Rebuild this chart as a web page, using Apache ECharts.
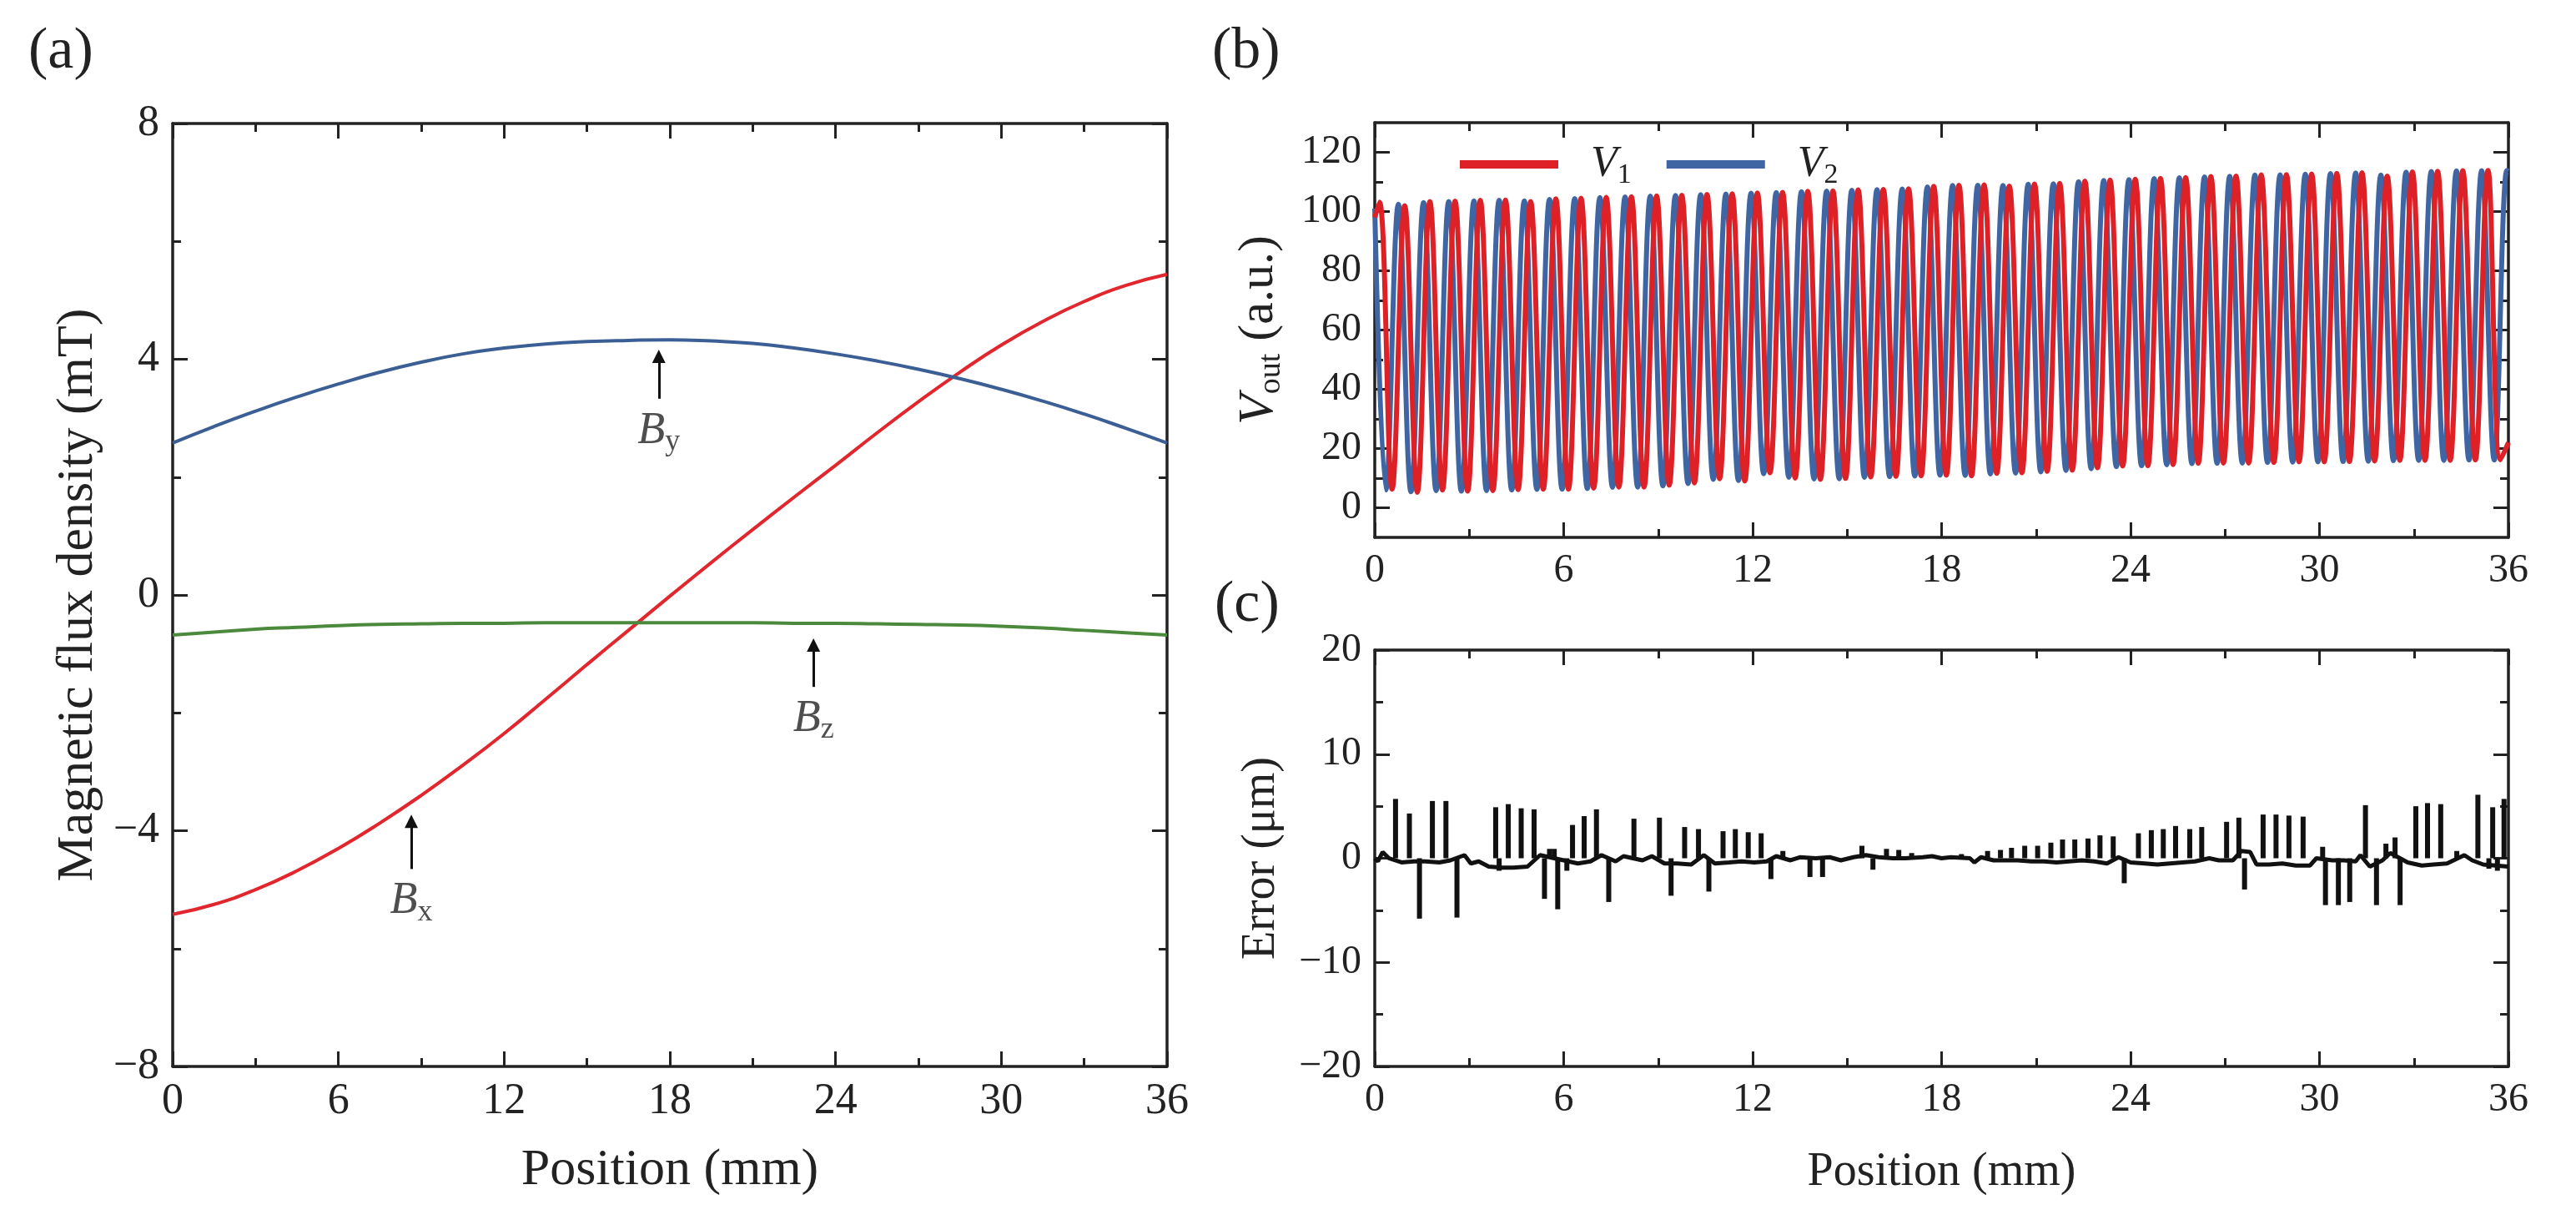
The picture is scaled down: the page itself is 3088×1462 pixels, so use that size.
<!DOCTYPE html>
<html>
<head>
<meta charset="utf-8">
<title>Flux density, output signals and position error</title>
<script src="https://cdn.jsdelivr.net/npm/echarts@6.0.0/dist/echarts.min.js"></script>
<style>
    html, body { margin: 0; padding: 0; background: #fff; }
    #main { width: 3088px; height: 1462px; }
</style>
</head>
<body>
<div id="main"></div>
<script>
// (a) flux density components along the scale
var posA = [0, 1.5, 3, 4.5, 6, 7.5, 9, 10.5, 12, 13.5, 15, 16.5, 18, 19.5, 21, 22.5, 24, 25.5, 27, 28.5, 30, 31.5, 33, 34.5, 36];
var bx = [-5.42, -5.25, -5.00, -4.68, -4.30, -3.87, -3.40, -2.89, -2.35, -1.77, -1.18, -0.60, -0.02, 0.55, 1.11, 1.66, 2.20, 2.75, 3.28, 3.78, 4.24, 4.64, 4.98, 5.25, 5.44];
var by = [2.58, 2.86, 3.12, 3.36, 3.58, 3.78, 3.95, 4.09, 4.19, 4.26, 4.30, 4.32, 4.33, 4.31, 4.27, 4.19, 4.09, 3.97, 3.83, 3.67, 3.49, 3.29, 3.07, 2.83, 2.58];
var bz = [-0.68, -0.63, -0.58, -0.55, -0.52, -0.5, -0.49, -0.48, -0.48, -0.47, -0.47, -0.47, -0.47, -0.47, -0.47, -0.48, -0.48, -0.49, -0.5, -0.51, -0.53, -0.56, -0.6, -0.64, -0.68];

// arrows with their labels in (a)
var arrowX = [17.6, 23.2, 8.64];
var arrowFrom = [3.33, -1.56, -4.65];
var arrowTo = [4.05, -0.85, -3.84];
var arrowLabelY = [2.78, -2.11, -5.2];
var arrowSub = ['y', 'z', 'x'];

// (b) output signals, extrema
var v1Pos = [0, 0.15, 0.55, 0.95, 1.35, 1.75, 2.15, 2.55, 2.95, 3.35, 3.75, 4.15, 4.55, 4.95, 5.35, 5.75, 6.15, 6.55, 6.95, 7.35, 7.75, 8.15, 8.55, 8.95, 9.35, 9.75, 10.15, 10.55, 10.95, 11.35, 11.75, 12.15, 12.55, 12.95, 13.35, 13.75, 14.15, 14.55, 14.95, 15.35, 15.75, 16.15, 16.55, 16.95, 17.35, 17.75, 18.15, 18.55, 18.95, 19.35, 19.75, 20.15, 20.55, 20.95, 21.35, 21.75, 22.15, 22.55, 22.95, 23.35, 23.75, 24.15, 24.55, 24.95, 25.35, 25.75, 26.15, 26.55, 26.95, 27.35, 27.75, 28.15, 28.55, 28.95, 29.35, 29.75, 30.15, 30.55, 30.95, 31.35, 31.75, 32.15, 32.55, 32.95, 33.35, 33.75, 34.15, 34.55, 34.95, 35.35, 35.75, 36];
var v1Val = [98, 103.2, 6.3, 102.0, 5.2, 103.4, 6.0, 103.5, 5.6, 103.8, 5.8, 103.9, 6.1, 103.4, 6.3, 104.3, 6.3, 104.5, 6.6, 104.8, 7.0, 105.0, 7.0, 105.3, 7.6, 105.5, 8.4, 105.8, 9.8, 106.0, 9.0, 106.3, 11.8, 106.5, 10.0, 106.8, 9.6, 107.0, 9.9, 107.3, 10.4, 107.5, 10.6, 107.7, 10.8, 108.5, 11.0, 108.9, 10.8, 109.0, 11.6, 108.6, 11.8, 109.3, 12.3, 109.5, 12.7, 110.3, 13.5, 110.6, 14.1, 110.9, 14.2, 111.2, 14.6, 111.5, 15.0, 111.8, 15.1, 112.0, 15.1, 112.4, 15.3, 112.5, 15.5, 112.7, 15.5, 112.9, 15.6, 113.1, 15.8, 112.0, 16.0, 113.4, 16.0, 113.6, 16.0, 113.8, 16.1, 113.9, 16.2, 22];
var v2Pos = [0, 0.35, 0.75, 1.15, 1.55, 1.95, 2.35, 2.75, 3.15, 3.55, 3.95, 4.35, 4.75, 5.15, 5.55, 5.95, 6.35, 6.75, 7.15, 7.55, 7.95, 8.35, 8.75, 9.15, 9.55, 9.95, 10.35, 10.75, 11.15, 11.55, 11.95, 12.35, 12.75, 13.15, 13.55, 13.95, 14.35, 14.75, 15.15, 15.55, 15.95, 16.35, 16.75, 17.15, 17.55, 17.95, 18.35, 18.75, 19.15, 19.55, 19.95, 20.35, 20.75, 21.15, 21.55, 21.95, 22.35, 22.75, 23.15, 23.55, 23.95, 24.35, 24.75, 25.15, 25.55, 25.95, 26.35, 26.75, 27.15, 27.55, 27.95, 28.35, 28.75, 29.15, 29.55, 29.95, 30.35, 30.75, 31.15, 31.55, 31.95, 32.35, 32.75, 33.15, 33.55, 33.95, 34.35, 34.75, 35.15, 35.55, 35.95, 36];
var v2Val = [101, 6.0, 102.5, 5.4, 103.0, 5.8, 103.4, 5.6, 103.6, 5.8, 103.8, 6.0, 103.6, 6.2, 104.1, 6.3, 104.4, 6.5, 104.7, 6.9, 104.9, 7.0, 105.2, 7.4, 105.4, 8.2, 105.7, 9.6, 105.9, 9.2, 106.2, 11.5, 106.4, 10.3, 106.7, 9.7, 106.9, 9.8, 107.2, 10.3, 107.4, 10.5, 107.6, 10.7, 108.3, 11.0, 108.8, 10.9, 108.9, 11.4, 108.8, 11.7, 109.2, 12.1, 109.4, 12.6, 110.1, 13.2, 110.5, 13.9, 110.8, 14.2, 111.1, 14.5, 111.4, 14.9, 111.7, 15.0, 111.9, 15.1, 112.3, 15.3, 112.4, 15.4, 112.6, 15.5, 112.8, 15.6, 113.0, 15.7, 112.3, 15.9, 113.3, 16.0, 113.5, 16.0, 113.7, 16.1, 113.8, 16.1, 113.9, 113.6];

// (c) error: narrow spikes and the noisy baseline
var spikeX = [0.66, 1.10, 1.42, 1.83, 2.26, 2.61, 3.84, 3.95, 4.24, 4.65, 5.06, 5.39, 5.55, 5.70, 5.81, 6.10, 6.28, 6.65, 7.04, 7.43, 8.23, 9.04, 9.41, 9.84, 10.28, 10.61, 11.06, 11.45, 11.86, 12.27, 12.58, 12.96, 13.82, 14.22, 15.47, 15.82, 16.25, 16.64, 17.05, 18.63, 19.46, 19.87, 20.22, 20.64, 21.05, 21.47, 21.84, 22.23, 22.65, 23.03, 23.45, 23.80, 24.25, 24.66, 25.04, 25.43, 25.88, 26.26, 27.05, 27.44, 27.62, 28.21, 28.62, 29.03, 29.48, 30.10, 30.19, 30.60, 30.96, 31.46, 31.81, 32.11, 32.40, 32.56, 33.06, 33.43, 33.85, 34.36, 35.03, 35.38, 35.50, 35.65, 35.86];
var spikeY = [5.7, 4.3, -5.8, 5.5, 5.5, -5.7, 4.9, -1.2, 5.2, 4.8, 4.7, -3.9, 0.9, 0.9, -4.9, -1.2, 3.2, 4.05, 4.7, -4.2, 3.8, 3.9, -3.6, 3.0, 2.8, -3.2, 2.6, 2.8, 2.5, 2.4, -2.0, 0.7, -1.8, -1.8, 1.2, -1.1, 0.9, 0.8, 0.5, 0.4, 0.7, 0.8, 1.0, 1.2, 1.2, 1.5, 1.8, 1.8, 1.9, 2.2, 2.1, -2.4, 2.4, 2.7, 2.8, 3.1, 2.8, 3.0, 3.5, 3.9, -3.0, 4.2, 4.2, 4.1, 4.0, 1.1, -4.5, -4.5, -4.2, 5.1, -4.5, 1.4, 2.0, -4.5, 5.0, 5.3, 5.2, 0.7, 6.1, -1.0, 4.9, -1.2, 5.7];
var baseX = [0, 0.10, 0.25, 0.45, 0.85, 1.25, 1.60, 2.05, 2.40, 2.85, 3.05, 3.30, 3.62, 4.05, 4.40, 4.85, 5.25, 6.45, 6.85, 7.20, 7.65, 7.90, 8.50, 8.80, 9.20, 9.60, 10.05, 10.45, 10.80, 11.25, 11.65, 12.05, 12.45, 12.75, 13.20, 13.50, 14.00, 14.45, 14.80, 15.20, 15.60, 16.00, 16.45, 16.85, 17.40, 17.70, 18.00, 18.30, 18.90, 19.04, 19.25, 19.65, 20.05, 20.42, 20.85, 21.25, 21.65, 22.05, 22.45, 22.85, 23.25, 23.62, 24.00, 24.45, 24.85, 25.25, 25.65, 26.05, 26.50, 26.80, 27.25, 27.52, 27.80, 28.00, 28.40, 28.82, 29.25, 29.70, 29.90, 30.40, 30.78, 31.15, 31.30, 31.60, 32.00, 32.25, 32.80, 33.25, 33.62, 34.05, 34.60, 34.85, 35.20, 36.00];
var baseY = [0.0, -0.3, 0.6, 0.0, -0.4, -0.3, -0.3, -0.4, -0.2, 0.3, -0.5, -0.3, -0.8, -0.9, -0.9, -0.8, 0.3, -0.5, -0.3, 0.3, -0.3, 0.2, -0.2, 0.2, -0.5, -0.5, -0.6, 0.3, -0.5, -0.4, -0.3, -0.4, -0.3, 0.2, -0.2, 0.1, 0.0, 0.1, -0.2, 0.1, 0.3, 0.1, 0.0, 0.0, 0.1, 0.2, 0.0, 0.1, 0.0, -0.4, 0.1, -0.2, -0.2, -0.2, -0.3, -0.3, -0.4, -0.3, -0.2, -0.3, -0.5, 0.1, -0.4, -0.5, -0.6, -0.5, -0.4, -0.3, 0.0, -0.2, -0.2, 0.7, 0.6, -0.6, -0.6, -0.5, -0.7, -0.7, 0.0, -0.2, -0.2, -0.3, 0.3, -0.8, -0.2, 0.5, -0.4, -0.7, -0.6, -0.5, 0.3, -0.2, -0.6, -0.8];

// tick values of panel (b)
var vMajor = [0, 20, 40, 60, 80, 100, 120];
var vMinor = [10, 30, 50, 70, 90, 110];

var FONT = '"Liberation Serif", "Times New Roman", serif';
var INK = '#222';

function pairs(xs, ys) {
    var out = [];
    for (var i = 0; i < Math.min(xs.length, ys.length); i++) {
        out.push([xs[i], ys[i]]);
    }
    return out;
}

function minus(v) {
    return String(v).replace('-', '\u2212');
}

// rich styles: italic symbol, subscript, plain text
function richStyle(size, sub) {
    return {
        i: { fontFamily: FONT, fontStyle: 'italic', fontSize: size, color: INK, lineHeight: size + 8 },
        s: { fontFamily: FONT, fontSize: sub, color: INK, verticalAlign: 'bottom', lineHeight: sub },
        n: { fontFamily: FONT, fontSize: size, color: INK, lineHeight: size + 8 }
    };
}

function axis(o) {
    var a = {
        type: 'value',
        gridIndex: o.grid,
        position: o.pos,
        min: o.min,
        max: o.max,
        interval: o.step,
        axisLine: { show: o.line !== false, onZero: false, lineStyle: { color: INK, width: 3.5 } },
        axisTick: { show: true, inside: true, length: o.tickLen || 18, lineStyle: { color: INK, width: 3 } },
        minorTick: { show: o.minor !== false, splitNumber: 2, length: 10, lineStyle: { color: INK, width: 3 } },
        splitLine: { show: false },
        axisLabel: { show: !!o.label, color: INK, fontFamily: FONT, fontSize: o.labelSize || 48, margin: 16, formatter: minus }
    };
    if (o.ticks) { a.axisTick.customValues = o.ticks; }
    if (o.labels) { a.axisLabel.customValues = o.labels; }
    if (o.name) {
        var size = o.nameSize || 56;
        a.name = o.name;
        a.nameLocation = 'middle';
        a.nameGap = o.gap;
        a.nameTruncate = { maxWidth: 3000 };
        if (o.rotate) { a.nameRotate = o.rotate; }
        a.nameTextStyle = {
            color: INK, fontFamily: FONT, fontSize: size,
            width: 1400, overflow: 'none',
            rich: richStyle(size, Math.round(size * 0.64))
        };
    }
    return a;
}

var grids = [
    { left: 207, top: 148, width: 1192, height: 1130 },
    { left: 1648, top: 147, width: 1359, height: 497 },
    { left: 1648, top: 779, width: 1359, height: 499 }
];
grids.forEach(function (g) {
    g.containLabel = false;
    g.outerBoundsMode = 'none';
});

var xAxes = [
    axis({ grid: 0, pos: 'bottom', min: 0, max: 36, step: 6, label: true, labelSize: 52,
        name: 'Position (mm)', nameSize: 62, gap: 94 }),
    axis({ grid: 0, pos: 'top', min: 0, max: 36, step: 6 }),
    axis({ grid: 1, pos: 'bottom', min: 0, max: 36, step: 6, label: true }),
    axis({ grid: 1, pos: 'top', min: 0, max: 36, step: 6 }),
    axis({ grid: 2, pos: 'bottom', min: 0, max: 36, step: 6, label: true, name: 'Position (mm)', gap: 99 }),
    axis({ grid: 2, pos: 'top', min: 0, max: 36, step: 6 })
];

var yAxes = [
    axis({ grid: 0, pos: 'left', min: -8, max: 8, step: 4, label: true, labelSize: 52,
        name: 'Magnetic flux density (mT)', nameSize: 62, gap: 82, rotate: 90 }),
    axis({ grid: 0, pos: 'right', min: -8, max: 8, step: 4 }),
    axis({ grid: 1, pos: 'left', min: -10, max: 130, step: 10, minor: false, label: true, ticks: vMajor, labels: vMajor,
        name: '{i|V}{s|out}{n| (a.u.)}', nameSize: 60, gap: 105, rotate: 90 }),
    axis({ grid: 1, pos: 'right', min: -10, max: 130, step: 10, minor: false, ticks: vMajor }),
    axis({ grid: 1, pos: 'left', min: -10, max: 130, step: 10, minor: false, line: false, ticks: vMinor, tickLen: 10 }),
    axis({ grid: 1, pos: 'right', min: -10, max: 130, step: 10, minor: false, line: false, ticks: vMinor, tickLen: 10 }),
    axis({ grid: 2, pos: 'left', min: -20, max: 20, step: 10, label: true, name: 'Error (\u03bcm)', gap: 108, rotate: 90 }),
    axis({ grid: 2, pos: 'right', min: -20, max: 20, step: 10 })
];

function flux(name, values, color) {
    return {
        name: name,
        type: 'line',
        xAxisIndex: 0,
        yAxisIndex: 0,
        data: pairs(posA, values),
        smooth: true,
        showSymbol: false,
        lineStyle: { color: color, width: 4 },
        itemStyle: { color: color }
    };
}

var series = [
    flux('Bx', bx, '#e1262d'),
    flux('By', by, '#3b5f94'),
    flux('Bz', bz, '#4b8a3d')
];

// arrows pointing at the curves
series[2].markLine = {
    silent: true,
    symbol: ['none', 'triangle'],
    symbolSize: 16,
    label: { show: false },
    lineStyle: { color: '#111', width: 3, type: 'solid' },
    data: arrowX.map(function (x, i) {
        return [{ coord: [x, arrowFrom[i]] }, { coord: [x, arrowTo[i]] }];
    })
};

series.push({
    name: 'arrow labels',
    type: 'scatter',
    xAxisIndex: 0,
    yAxisIndex: 0,
    symbolSize: 1,
    itemStyle: { color: 'rgba(0,0,0,0)' },
    label: { show: true, position: 'inside', rich: richStyle(54, 36) },
    data: arrowX.map(function (x, i) {
        return {
            value: [x, arrowLabelY[i]],
            label: { formatter: '{i|B}{s|' + arrowSub[i] + '}' }
        };
    })
});

function signal(name, xs, ys, color) {
    return {
        name: name,
        type: 'line',
        xAxisIndex: 2,
        yAxisIndex: 2,
        data: pairs(xs, ys),
        smooth: 0.4,
        showSymbol: false,
        lineStyle: { color: color, width: 6 },
        itemStyle: { color: color }
    };
}
series.push(signal('V2', v2Pos, v2Val, '#3f66a3'));
series.push(signal('V1', v1Pos, v1Val, '#de2027'));

series.push({
    name: 'baseline',
    type: 'line',
    xAxisIndex: 4,
    yAxisIndex: 6,
    data: pairs(baseX, baseY),
    showSymbol: false,
    lineStyle: { color: '#111', width: 5 }
});
series.push({
    name: 'spikes',
    type: 'bar',
    xAxisIndex: 4,
    yAxisIndex: 6,
    barWidth: 6,
    itemStyle: { color: '#111' },
    data: pairs(spikeX, spikeY)
});

var option = {
    backgroundColor: '#fff',
    animation: false,
    grid: grids,
    xAxis: xAxes,
    yAxis: yAxes,
    legend: {
        data: ['V1', 'V2'],
        left: 1745,
        top: 166,
        icon: 'rect',
        itemWidth: 118,
        itemHeight: 10,
        itemGap: 42,
        formatter: function (name) {
            return '{i|' + name.charAt(0) + '}{s|' + name.charAt(1) + '}';
        },
        textStyle: {
            padding: [0, 0, 0, 34],
            rich: richStyle(52, 34)
        }
    },
    graphic: [
        { type: 'text', left: 34, top: 28, style: { text: '(a)', fontSize: 70, fontFamily: FONT, fill: INK } },
        { type: 'text', left: 1453, top: 28, style: { text: '(b)', fontSize: 70, fontFamily: FONT, fill: INK } },
        { type: 'text', left: 1456, top: 691, style: { text: '(c)', fontSize: 70, fontFamily: FONT, fill: INK } }
    ],
    series: series
};

var chart = echarts.init(document.getElementById('main'));
chart.setOption(option);
</script>
</body>
</html>
